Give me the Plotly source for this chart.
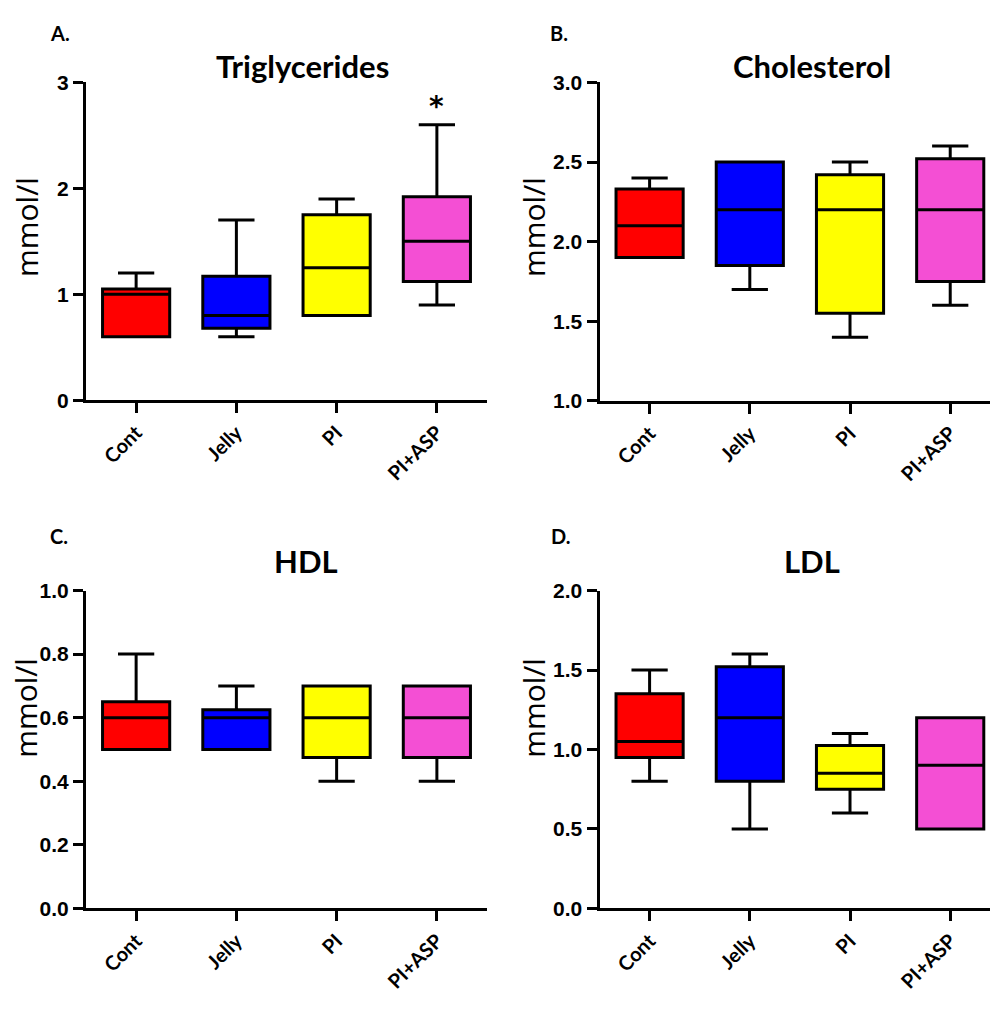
import plotly.graph_objects as go

# Groups shown on every panel
groups = ["Cont", "Jelly", "PI", "PI+ASP"]
group_colors = ["#FF0000", "#0000FF", "#FFFF00", "#F44FD4"]

# Box summaries per analyte (mmol/l): lower whisker, Q1, median, Q3, upper whisker
tg_low = [0.6, 0.6, 0.8, 0.9]
tg_q1 = [0.6, 0.68, 0.8, 1.12]
tg_med = [1.0, 0.8, 1.25, 1.5]
tg_q3 = [1.05, 1.17, 1.75, 1.92]
tg_high = [1.2, 1.7, 1.9, 2.6]

chol_low = [1.9, 1.7, 1.4, 1.6]
chol_q1 = [1.9, 1.85, 1.55, 1.75]
chol_med = [2.1, 2.2, 2.2, 2.2]
chol_q3 = [2.33, 2.5, 2.42, 2.52]
chol_high = [2.4, 2.5, 2.5, 2.6]

hdl_low = [0.5, 0.5, 0.4, 0.4]
hdl_q1 = [0.5, 0.5, 0.475, 0.475]
hdl_med = [0.6, 0.6, 0.6, 0.6]
hdl_q3 = [0.65, 0.625, 0.7, 0.7]
hdl_high = [0.8, 0.7, 0.7, 0.7]

ldl_low = [0.8, 0.5, 0.6, 0.5]
ldl_q1 = [0.95, 0.8, 0.75, 0.5]
ldl_med = [1.05, 1.2, 0.85, 0.9]
ldl_q3 = [1.35, 1.52, 1.025, 1.2]
ldl_high = [1.5, 1.6, 1.1, 1.2]

W, H = 990, 1011


def fx(px):
    return px / W


def fy(py):
    return 1 - py / H


# Pixel layout of each panel: plot box, title centre, letter anchor, y-title centre
panels = [
    dict(name="Triglycerides", letter="A.", axis="", low=tg_low, q1=tg_q1, med=tg_med,
         q3=tg_q3, high=tg_high, xdom=(86, 487), ydom=(72, 397.3), yrange=[0, 3],
         dtick=1, fmt="d", xr=3.5, title_xy=(302, 55), letter_xy=(48, 21),
         ytitle_xy=(27, 220)),
    dict(name="Cholesterol", letter="B.", axis="2", low=chol_low, q1=chol_q1, med=chol_med,
         q3=chol_q3, high=chol_high, xdom=(599.5, 990), ydom=(72, 398), yrange=[1, 3],
         dtick=0.5, fmt=".1f", xr=3.397, title_xy=(812, 55), letter_xy=(548, 21),
         ytitle_xy=(534, 220)),
    dict(name="HDL", letter="C.", axis="3", low=hdl_low, q1=hdl_q1, med=hdl_med,
         q3=hdl_q3, high=hdl_high, xdom=(86, 487), ydom=(592, 917.3), yrange=[0, 1],
         dtick=0.2, fmt=".1f", xr=3.5, title_xy=(306, 562), letter_xy=(48, 536),
         ytitle_xy=(26, 712)),
    dict(name="LDL", letter="D.", axis="4", low=ldl_low, q1=ldl_q1, med=ldl_med,
         q3=ldl_q3, high=ldl_high, xdom=(599.5, 990), ydom=(592, 917.3), yrange=[0, 2],
         dtick=0.5, fmt=".1f", xr=3.397, title_xy=(812, 562), letter_xy=(549, 536),
         ytitle_xy=(534, 712)),
]

TITLE_FONT = "Lato, Open Sans, sans-serif"
TICK_FONT = "Liberation Sans Narrow, Arial Narrow, Liberation Sans, sans-serif"

fig = go.Figure()
annotations = []
layout_axes = {}

for p in panels:
    xa = "x" + p["axis"]
    ya = "y" + p["axis"]
    for i, g in enumerate(groups):
        fig.add_trace(go.Box(
            x=[g], q1=[p["q1"][i]], median=[p["med"][i]], q3=[p["q3"][i]],
            lowerfence=[p["low"][i]], upperfence=[p["high"][i]],
            fillcolor=group_colors[i], line=dict(color="black", width=3),
            width=0.67, whiskerwidth=0.54, boxpoints=False,
            showlegend=False, hoverinfo="skip", xaxis=xa, yaxis=ya,
        ))

    layout_axes["xaxis" + p["axis"]] = dict(
        domain=[fx(p["xdom"][0]), fx(p["xdom"][1])], anchor=ya,
        type="category", categoryorder="array", categoryarray=groups,
        range=[-0.5, p["xr"]], showline=True, linewidth=3, linecolor="black",
        ticks="outside", ticklen=10, tickwidth=3, tickcolor="black",
        tickangle=-45, showgrid=False, zeroline=False, fixedrange=True,
        tickfont=dict(family=TITLE_FONT, size=20, color="black", weight="bold"),
    )
    layout_axes["yaxis" + p["axis"]] = dict(
        domain=[fy(p["ydom"][1]), fy(p["ydom"][0])], anchor=xa,
        range=p["yrange"], dtick=p["dtick"], tick0=0, tickformat=p["fmt"],
        showline=True, linewidth=3, linecolor="black",
        ticks="outside", ticklen=10, tickwidth=3, tickcolor="black",
        showgrid=False, zeroline=False, fixedrange=True,
        tickfont=dict(family=TICK_FONT, size=21, color="black", weight="bold"),
    )

    tx, ty = p["title_xy"]
    annotations.append(dict(
        text=p["name"], xref="paper", yref="paper", x=fx(tx), y=fy(ty),
        xanchor="center", yanchor="middle", showarrow=False,
        font=dict(family=TITLE_FONT, size=31, color="black", weight="bold"),
    ))
    lx, ly = p["letter_xy"]
    annotations.append(dict(
        text=p["letter"], xref="paper", yref="paper", x=fx(lx), y=fy(ly),
        xanchor="left", yanchor="middle", showarrow=False,
        font=dict(family=TITLE_FONT, size=20, color="black", weight="bold"),
    ))
    mx, my = p["ytitle_xy"]
    annotations.append(dict(
        text="mmol/l", xref="paper", yref="paper", textangle=-90, x=fx(mx), y=fy(my),
        xanchor="center", yanchor="middle", showarrow=False,
        font=dict(family="Open Sans, sans-serif", size=30, color="black"),
    ))

# significance marker above the PI+ASP triglyceride whisker
annotations.append(dict(
    text="*", x=groups[3], y=tg_high[3], xref="x", yref="y", yshift=18,
    showarrow=False, xanchor="center", yanchor="middle",
    font=dict(family="DejaVu Sans, sans-serif", size=28, color="black", weight="bold"),
))

fig.update_layout(
    width=W, height=H, autosize=False,
    margin=dict(l=0, r=0, t=0, b=0),
    paper_bgcolor="white", plot_bgcolor="white",
    boxmode="overlay", annotations=annotations, **layout_axes,
)

fig.write_html("out.html")
